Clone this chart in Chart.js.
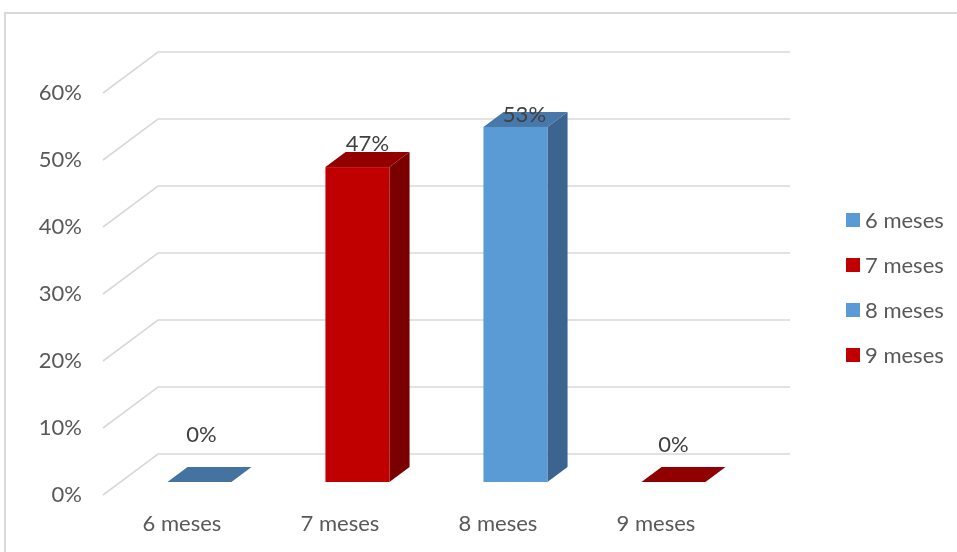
<!DOCTYPE html>
<html>
<head>
<meta charset="utf-8">
<script src="https://cdn.jsdelivr.net/npm/chart.js@4/dist/chart.umd.min.js"></script>
<style>
  html, body { margin: 0; padding: 0; background: #ffffff; overflow: hidden; }
  #wrap { position: absolute; left: 0; top: 0; width: 957px; height: 552px; }
</style>
</head>
<body>
<div id="wrap"><canvas id="c" width="957" height="552"></canvas></div>
<script>
// Categories and percentages
const categories = ['6 meses', '7 meses', '8 meses', '9 meses'];
const values = [0, 47, 53, 0];
const yTicks = [0, 10, 20, 30, 40, 50, 60];

// Face colours per bar: front, top, side
const frontColors = ['#5b9bd5', '#c00000', '#5b9bd5', '#c00000'];
const topColors   = ['#44739f', '#920000', '#4778a9', '#900000'];
const sideColors  = ['#3b6590', '#7a0000', '#3b6590', '#7a0000'];

const FONT = 'Lato, "Open Sans", sans-serif';
const TEXT = '#595959';

// Depth of the 3D box (pixels) and where the bars sit inside it
const DEPTH_X = 55, DEPTH_Y = 41;
const BAR_FRONT = 0.317, BAR_BACK = 0.683;
const BAR_FRACTION = 0.405;

// Fine placement of value labels above each bar
const labelShiftX = [2, 10, 9, 0];
const labelLift = [47, 23, 12, 37];

const box3d = {
  id: 'box3d',
  beforeDraw(chart) {
    const ctx = chart.ctx;
    ctx.save();
    ctx.strokeStyle = '#d9d9d9';
    ctx.lineWidth = 2;
    ctx.beginPath();
    ctx.moveTo(5, 552);
    ctx.lineTo(5, 13);
    ctx.lineTo(957, 13);
    ctx.stroke();
    ctx.restore();
  },
  beforeDatasetsDraw(chart) {
    const ctx = chart.ctx;
    const area = chart.chartArea;
    const ys = chart.scales.y;
    ctx.save();
    ctx.strokeStyle = '#d9d9d9';
    ctx.lineWidth = 1.6;
    yTicks.forEach(v => {
      const py = ys.getPixelForValue(v);
      ctx.beginPath();
      ctx.moveTo(area.left, py);
      ctx.lineTo(area.left + DEPTH_X, py - DEPTH_Y);
      ctx.lineTo(area.right + DEPTH_X, py - DEPTH_Y);
      ctx.stroke();
    });
    ctx.restore();
  },
  afterDatasetsDraw(chart) {
    const ctx = chart.ctx;
    const area = chart.chartArea;
    const xs = chart.scales.x, ys = chart.scales.y;
    const catW = (area.right - area.left) / categories.length;
    const w = catW * BAR_FRACTION;
    const fx = BAR_FRONT * DEPTH_X, fy = BAR_FRONT * DEPTH_Y;
    const bx = (BAR_BACK - BAR_FRONT) * DEPTH_X, by = (BAR_BACK - BAR_FRONT) * DEPTH_Y;
    ctx.save();
    values.forEach((v, i) => {
      const cx = xs.getPixelForValue(i) + fx;
      const L = cx - w / 2, R = cx + w / 2;
      const B = ys.getPixelForValue(0) - fy;
      const T = ys.getPixelForValue(v) - fy;
      // side face
      if (B - T > 0.5) {
        ctx.fillStyle = sideColors[i];
        ctx.beginPath();
        ctx.moveTo(R, T); ctx.lineTo(R + bx, T - by);
        ctx.lineTo(R + bx, B - by); ctx.lineTo(R, B);
        ctx.closePath(); ctx.fill();
      }
      // top face
      ctx.fillStyle = topColors[i];
      ctx.beginPath();
      ctx.moveTo(L, T); ctx.lineTo(R, T);
      ctx.lineTo(R + bx, T - by); ctx.lineTo(L + bx, T - by);
      ctx.closePath(); ctx.fill();
      // front face
      if (B - T > 0.5) {
        ctx.fillStyle = frontColors[i];
        ctx.fillRect(L, T, w, B - T);
      }
      // value label
      ctx.fillStyle = '#404040';
      ctx.font = '22px ' + FONT;
      ctx.textAlign = 'center';
      ctx.textBaseline = 'middle';
      ctx.fillText(v + '%', cx + labelShiftX[i], T - labelLift[i]);
    });

    // legend
    ctx.textAlign = 'left';
    ctx.textBaseline = 'middle';
    ctx.font = '22px ' + FONT;
    categories.forEach((c, i) => {
      const yy = 220 + 45 * i;
      ctx.fillStyle = frontColors[i];
      ctx.fillRect(846, yy - 7, 14, 14);
      ctx.fillStyle = TEXT;
      ctx.fillText(c, 865, yy + 1);
    });
    ctx.restore();
  }
};

new Chart(document.getElementById('c'), {
  type: 'bar',
  data: {
    labels: categories,
    datasets: [{
      label: 'Meses',
      data: values,
      backgroundColor: 'rgba(0,0,0,0)',
      borderWidth: 0,
      barPercentage: BAR_FRACTION,
      categoryPercentage: 1
    }]
  },
  options: {
    responsive: false,
    animation: false,
    devicePixelRatio: 1,
    layout: { padding: { top: 93, right: 222, left: 0, bottom: 0 } },
    plugins: { legend: { display: false }, tooltip: { enabled: false } },
    scales: {
      x: {
        grid: { display: false, drawTicks: false },
        border: { display: false },
        ticks: { color: TEXT, font: { family: FONT, size: 22 }, padding: 16, maxRotation: 0 },
        afterFit: s => { s.height = 57; }
      },
      y: {
        min: 0, max: 60,
        grid: { display: false, drawTicks: false },
        border: { display: false },
        afterBuildTicks: s => { s.ticks = yTicks.map(v => ({ value: v })); },
        ticks: { color: TEXT, font: { family: FONT, size: 22 }, padding: 21, callback: v => v + '%' },
        afterFit: s => { s.width = 103; }
      }
    }
  },
  plugins: [box3d]
});
</script>
</body>
</html>
